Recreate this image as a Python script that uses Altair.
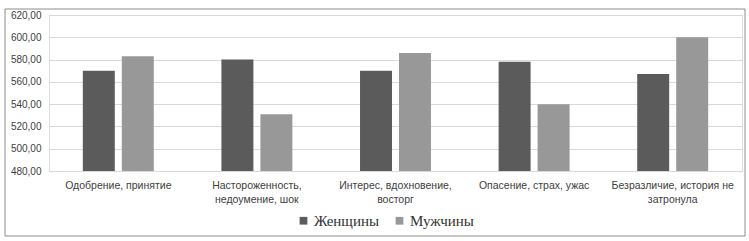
import altair as alt
import pandas as pd

categories = [
    "Одобрение, принятие",
    "Настороженность, недоумение, шок",
    "Интерес, вдохновение, восторг",
    "Опасение, страх, ужас",
    "Безразличие, история не затронула",
]
label_lines = [
    ["Одобрение, принятие"],
    ["Настороженность,", "недоумение, шок"],
    ["Интерес, вдохновение,", "восторг"],
    ["Опасение, страх, ужас"],
    ["Безразличие, история не", "затронула"],
]
series = ["Женщины", "Мужчины"]
women = [570, 580, 570, 578, 567]
men = [583, 531, 586, 540, 600]
colors = ["#5b5b5b", "#989898"]

rows = []
for i, c in enumerate(categories):
    rows.append({"cat": c, "sex": series[0], "val": women[i]})
    rows.append({"cat": c, "sex": series[1], "val": men[i]})
df = pd.DataFrame(rows)

expr_parts = []
for c, lines in zip(categories, label_lines):
    arr = "[" + ",".join("'" + l + "'" for l in lines) + "]"
    expr_parts.append(f"datum.value == '{c}' ? {arr} : ")
label_expr = "".join(expr_parts) + "datum.label"

W, H = 693, 156

bars = alt.Chart(df).mark_bar(clip=True).encode(
    x=alt.X("cat:N", sort=categories, title=None,
            scale=alt.Scale(paddingInner=0.488, paddingOuter=0.244),
            axis=alt.Axis(labelAngle=0, labelExpr=label_expr, ticks=False,
                          domain=False, grid=False, labelPadding=9,
                          labelFont="Liberation Sans", labelFontSize=10.5,
                          labelColor="#404040", labelLimit=200,
                          labelLineHeight=14, labelBaseline="top")),
    xOffset=alt.XOffset("sex:N", sort=series,
                        scale=alt.Scale(paddingInner=0.18, paddingOuter=0)),
    y=alt.Y("val:Q", title=None,
            scale=alt.Scale(domain=[480, 620], zero=False, nice=False),
            axis=alt.Axis(values=[480, 500, 520, 540, 560, 580, 600, 620],
                          labelExpr="replace(format(datum.value, '.2f'), '.', ',')",
                          ticks=False, domain=False, grid=True,
                          gridColor="#d9d9d9", gridWidth=1,
                          labelPadding=8, labelFont="Liberation Sans",
                          labelFontSize=10, labelColor="#404040")),
    color=alt.Color("sex:N", sort=series,
                    scale=alt.Scale(domain=series, range=colors),
                    legend=alt.Legend(title=None, orient="none", direction="horizontal",
                                      legendX=247, legendY=198,
                                      symbolType="square", symbolSize=60,
                                      symbolStrokeWidth=0, symbolOffset=0,
                                      labelFont="Liberation Serif", labelFontSize=15,
                                      labelColor="#333333", columnPadding=12,
                                      labelOffset=3)),
)

frame = alt.Chart(pd.DataFrame({"a": [0]})).mark_rect(
    fill=None, stroke="#8c8c8c", strokeWidth=1
).encode(
    x=alt.value(-44), x2=alt.value(696), y=alt.value(-6), y2=alt.value(221)
)

chart = alt.layer(bars, frame).properties(
    width=W, height=H,
    autosize=alt.AutoSizeParams(type="none"),
    padding={"left": 49, "top": 15, "right": 7, "bottom": 70},
).configure_view(stroke=None).configure(background="white")

chart.save("out.html", embed_options={"renderer": "svg", "actions": False})
